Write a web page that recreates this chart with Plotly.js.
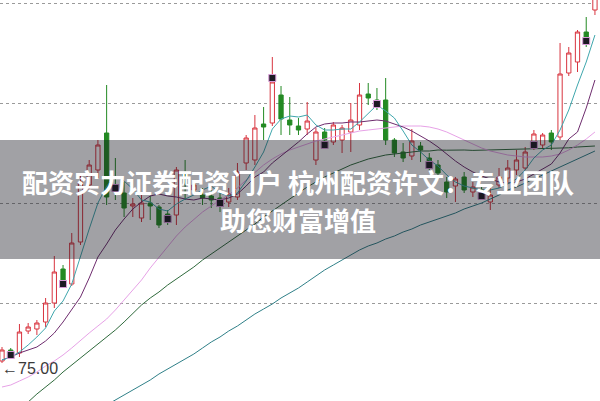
<!DOCTYPE html>
<html>
<head>
<meta charset="utf-8">
<script src="https://cdn.plot.ly/plotly-3.0.1.min.js"></script>
<style>html,body{margin:0;padding:0;background:#fff;}#chart{width:600px;height:401px;}</style>
</head>
<body>
<div id="chart"></div>
<script>
// trading-day index (0 = leftmost candle)
const days = Array.from({length: 69}, (_, i) => i);

const openPrices = [75.10,75.65,75.50,76.60,76.70,77.05,78.00,79.70,78.95,81.05,
  83.90,84.65,86.50,83.90,83.50,82.85,82.25,83.00,82.80,82.45,
  82.40,84.45,83.65,83.40,83.35,83.25,83.05,83.30,85.00,85.15,
  86.95,87.00,88.40,87.15,86.85,86.70,85.15,86.55,86.05,86.15,
  86.55,86.90,88.45,88.15,88.15,86.15,85.55,85.35,85.85,85.25,
  84.90,84.05,83.85,84.30,83.55,83.65,83.05,83.90,84.25,84.65,
  84.75,86.05,85.90,86.50,86.30,89.50,90.05,91.55,92.65];
const highPrices = [75.80,75.75,76.95,77.00,77.15,78.25,80.35,79.90,81.50,84.40,
  85.15,86.15,88.90,85.25,84.05,83.25,83.40,83.35,82.90,82.65,
  84.80,85.15,84.15,83.75,83.65,83.50,83.75,85.00,86.40,87.40,
  87.80,90.30,88.85,88.30,87.25,88.05,86.75,86.75,87.05,86.90,
  88.00,89.00,89.00,88.75,89.25,86.25,86.00,86.70,86.05,85.50,
  85.15,84.30,84.30,84.55,84.05,83.90,83.75,84.75,85.15,85.65,
  85.80,86.65,86.50,86.65,91.00,90.80,91.65,92.30,93.65];
const lowPrices = [75.00,75.25,75.30,76.45,76.40,76.80,77.75,79.00,78.85,80.90,
  83.65,84.25,82.90,83.15,82.30,82.30,82.05,82.15,81.75,81.90,
  81.90,83.15,83.40,82.90,82.75,82.55,82.80,83.15,84.65,84.90,
  86.15,86.85,86.40,86.40,86.40,86.40,84.90,85.75,85.90,85.50,
  85.55,86.65,87.90,87.65,85.90,85.30,85.05,85.15,85.05,84.65,
  84.35,83.25,83.05,83.50,83.30,83.15,82.65,83.75,84.05,84.40,
  84.65,85.65,85.75,85.65,86.15,89.35,89.55,90.80,92.40];
const closePrices = [75.65,75.40,76.55,76.80,77.00,78.00,79.55,79.10,81.00,84.05,
  84.90,85.90,83.30,83.65,82.75,82.95,83.00,82.85,81.90,82.25,
  84.65,84.30,83.90,83.25,83.15,83.00,83.45,84.55,86.25,86.75,
  86.80,89.05,87.20,86.90,86.65,87.10,86.55,86.15,86.90,86.75,
  87.15,88.40,88.25,87.95,86.15,85.50,85.25,86.10,85.65,84.95,
  84.50,83.55,84.20,83.65,83.80,83.45,83.40,84.30,84.75,85.15,
  85.55,86.45,86.40,86.05,89.45,90.50,91.55,91.25,93.25];

// moving-average lines
const ma5 = [75.15,75.30,75.55,75.90,76.30,76.75,77.60,78.10,78.95,80.35,
  81.70,83.00,83.85,84.35,84.10,83.70,83.15,83.05,82.70,82.60,
  82.95,83.20,83.40,83.65,83.85,83.50,83.35,83.50,84.10,84.80,
  85.55,86.70,87.20,87.35,87.30,87.40,86.90,86.65,86.65,86.70,
  86.70,87.05,87.50,87.90,87.60,87.25,86.60,85.90,85.55,85.15,
  84.85,84.40,84.05,83.85,83.75,83.65,83.65,83.75,83.95,84.20,
  84.65,85.25,85.65,85.90,86.65,87.65,88.90,90.05,91.40];
const ma10 = [75.15,75.30,75.50,75.65,75.80,76.10,76.50,77.05,77.65,78.30,
  79.25,80.30,80.95,81.65,82.20,82.70,83.05,83.35,83.45,83.35,
  83.30,83.20,83.15,83.25,83.20,83.15,83.25,83.45,83.85,84.30,
  84.55,85.00,85.35,85.70,86.05,86.45,86.80,86.95,87.00,87.00,
  87.05,87.05,87.10,87.15,87.10,86.95,86.80,86.60,86.35,86.10,
  85.80,85.45,85.10,84.80,84.55,84.35,84.20,84.05,84.00,84.05,
  84.20,84.45,84.70,84.95,85.50,86.20,86.55,87.75,89.15];
const ma20 = [73.80,73.90,74.10,74.30,74.55,74.85,75.10,75.40,75.75,76.15,
  76.50,76.85,77.20,77.65,78.15,78.65,79.15,79.75,80.30,80.85,
  81.35,81.80,82.20,82.55,82.85,83.15,83.40,83.75,84.15,84.55,
  84.90,85.20,85.45,85.65,85.80,85.95,86.10,86.20,86.30,86.40,
  86.50,86.60,86.65,86.70,86.75,86.80,86.85,86.85,86.85,86.80,
  86.70,86.55,86.35,86.15,85.95,85.75,85.60,85.50,85.40,85.35,
  85.30,85.30,85.30,85.35,85.45,85.65,85.90,86.20,86.55];
const ma60 = [72.00,72.35,72.70,73.05,73.45,73.80,74.15,74.55,74.90,75.25,
  75.60,75.95,76.30,76.65,77.05,77.50,77.90,78.25,78.55,78.90,
  79.20,79.50,79.80,80.15,80.45,80.75,81.05,81.35,81.65,81.95,
  82.30,82.60,82.90,83.20,83.50,83.80,84.05,84.30,84.50,84.70,
  84.90,85.05,85.20,85.30,85.40,85.45,85.50,85.55,85.60,85.60,
  85.65,85.64,85.66,85.65,85.63,85.64,85.66,85.67,85.66,85.70,
  85.70,85.71,85.70,85.72,85.75,85.76,85.80,85.82,85.85];
const ma120 = [69.85,70.10,70.35,70.60,70.85,71.10,71.35,71.60,71.85,72.15,
  72.40,72.65,72.90,73.15,73.40,73.65,73.90,74.15,74.45,74.70,
  74.95,75.20,75.45,75.75,76.05,76.30,76.60,76.85,77.15,77.45,
  77.70,77.95,78.25,78.50,78.75,79.05,79.35,79.65,79.90,80.15,
  80.40,80.65,80.85,81.00,81.20,81.35,81.55,81.70,81.90,82.05,
  82.20,82.35,82.50,82.70,82.85,83.00,83.20,83.40,83.65,83.80,
  84.00,84.20,84.40,84.60,84.80,85.00,85.20,85.40,85.60];

// small signal markers
const markerDays = [1,7,13,19,25,31,37,43,49,55,61,67];
const markerPrices = [75.40,78.95,83.75,82.20,83.00,89.25,85.90,87.95,84.90,83.35,85.90,91.10];

const gridPrices = [78,83,88,93];
const lowLabel = '\u219075.00';
const lowDay = 0, lowValue = 75.00;
const bannerLine1 = '配资实力证券配资门户 杭州配资许文：专业团队';
const bannerLine2 = '助您财富增值';

function maLine(y, color, w) {
  return {type:'scatter', mode:'lines', x: days, y: y, hoverinfo:'skip',
    line:{color: color, width: w || 1}, showlegend:false};
}

const traces = [
  {type:'candlestick', x: days, open: openPrices, high: highPrices, low: lowPrices, close: closePrices,
   increasing:{line:{color:'#d8343f', width:1}, fillcolor:'#ffffff'},
   decreasing:{line:{color:'#238a23', width:1}, fillcolor:'#238a23'},
   whiskerwidth:0, showlegend:false, hoverinfo:'skip'},
  maLine(ma120, '#2f8088'),
  maLine(ma60, '#2f6a3c'),
  maLine(ma20, '#e7a2e7'),
  maLine(ma10, '#6e2c6e'),
  maLine(ma5, '#3fa7ad'),
  {type:'scatter', mode:'markers', x: markerDays, y: markerPrices, hoverinfo:'skip', showlegend:false,
   marker:{symbol:'square', size:7, color:'#1d1a24', line:{color:'#d89ad8', width:1}}}
];

const layout = {
  width:600, height:401,
  margin:{l:0, r:0, t:0, b:0, pad:0},
  paper_bgcolor:'#ffffff', plot_bgcolor:'#ffffff',
  showlegend:false,
  boxgap:0.3,
  xaxis:{range:[-0.23, 68.58], showgrid:false, zeroline:false, showticklabels:false,
    ticks:'', showline:false, rangeslider:{visible:false}, fixedrange:true},
  yaxis:{range:[73.1, 93.15], tickvals: gridPrices, showgrid:true, gridcolor:'#9a9a9a',
    griddash:'dot', gridwidth:1, zeroline:false, showticklabels:false, ticks:'', showline:false, fixedrange:true},
  shapes:[{type:'rect', xref:'paper', yref:'paper', x0:0, x1:1, y0:0.3541, y1:0.6509,
    fillcolor:'rgba(20,20,30,0.4)', line:{width:0}, layer:'above'}],
  annotations:[
    {x: lowDay, y: lowValue, xref:'x', yref:'y', text: lowLabel, showarrow:false,
     xanchor:'left', yanchor:'middle', yshift:-5, xshift:-2,
     font:{family:'Liberation Sans, Arial, sans-serif', size:16, color:'#3a3a3a'}},
    {x:0.497, y:0.5486, xref:'paper', yref:'paper', text: bannerLine1, showarrow:false,
     xanchor:'center', yanchor:'middle',
     font:{family:'Noto Sans CJK SC, sans-serif', size:26, color:'#ffffff', weight:700}},
    {x:0.497, y:0.4514, xref:'paper', yref:'paper', text: bannerLine2, showarrow:false,
     xanchor:'center', yanchor:'middle',
     font:{family:'Noto Sans CJK SC, sans-serif', size:26, color:'#ffffff', weight:700}}
  ]
};

Plotly.newPlot('chart', traces, layout, {displayModeBar:false, staticPlot:true});
</script>
</body>
</html>
